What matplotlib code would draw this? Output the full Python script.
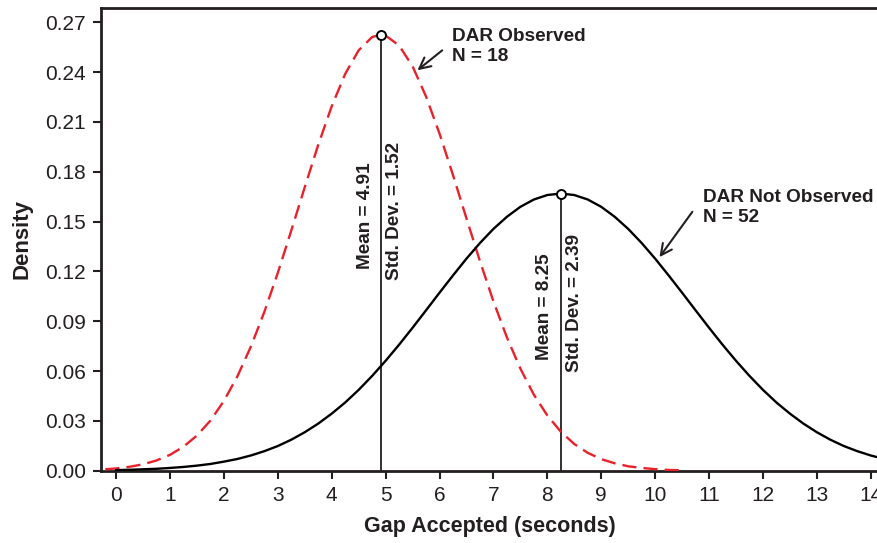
import numpy as np
import matplotlib.pyplot as plt

plt.rcParams['font.family'] = ['Liberation Sans', 'DejaVu Sans']

# ---- data ----
# DAR observed (red dashed), density vs gap accepted (s)
obs_x = [-0.2, 0.0, 0.25, 0.5, 0.75, 1.0, 1.25, 1.5, 1.75, 2.0, 2.25, 2.5, 2.75,
         3.0, 3.25, 3.5, 3.75, 4.0, 4.25, 4.5, 4.75, 4.91, 5.0, 5.25, 5.5, 5.75,
         6.0, 6.25, 6.5, 6.75, 7.0, 7.25, 7.5, 7.75, 8.0, 8.25, 8.5, 8.75, 9.0,
         9.25, 9.5, 9.75, 10.0, 10.25, 10.5]
obs_y = [0.0009, 0.0014, 0.0024, 0.0039, 0.0062, 0.0096, 0.0145, 0.0212, 0.0302,
         0.0420, 0.0568, 0.0747, 0.0956, 0.1191, 0.1446, 0.1707, 0.1962, 0.2194,
         0.2389, 0.2531, 0.2611, 0.2625, 0.2620, 0.2560, 0.2435, 0.2253, 0.2030,
         0.1780, 0.1519, 0.1262, 0.1020, 0.0803, 0.0615, 0.0458, 0.0333, 0.0235,
         0.0161, 0.0108, 0.0070, 0.0045, 0.0027, 0.0017, 0.0010, 0.0005, 0.0003]

# DAR not observed (black solid)
nob_x = [0.0, 0.25, 0.5, 0.75, 1.0, 1.25, 1.5, 1.75, 2.0, 2.25, 2.5, 2.75, 3.0,
         3.25, 3.5, 3.75, 4.0, 4.25, 4.5, 4.75, 5.0, 5.25, 5.5, 5.75, 6.0, 6.25,
         6.5, 6.75, 7.0, 7.25, 7.5, 7.75, 8.0, 8.25, 8.5, 8.75, 9.0, 9.25, 9.5,
         9.75, 10.0, 10.25, 10.5, 10.75, 11.0, 11.25, 11.5, 11.75, 12.0, 12.25,
         12.5, 12.75, 13.0, 13.25, 13.5, 13.75, 14.0, 14.25]
nob_y = [0.0004, 0.0006, 0.0009, 0.0012, 0.0017, 0.0023, 0.0031, 0.0041, 0.0055,
         0.0071, 0.0092, 0.0118, 0.0149, 0.0187, 0.0232, 0.0284, 0.0344, 0.0411,
         0.0487, 0.0571, 0.0662, 0.0759, 0.0861, 0.0966, 0.1072, 0.1176, 0.1277,
         0.1371, 0.1456, 0.1529, 0.1589, 0.1633, 0.1660, 0.1669, 0.1660, 0.1633,
         0.1589, 0.1529, 0.1456, 0.1371, 0.1277, 0.1176, 0.1072, 0.0966, 0.0861,
         0.0759, 0.0662, 0.0571, 0.0487, 0.0411, 0.0344, 0.0284, 0.0232, 0.0187,
         0.0149, 0.0118, 0.0092, 0.0071]

obs_mean, obs_sd, obs_n = 4.91, 1.52, 18
nob_mean, nob_sd, nob_n = 8.25, 2.39, 52
obs_peak = 0.2625
nob_peak = 0.1669

x_ticks = list(range(0, 15))
y_ticks = [0.00, 0.03, 0.06, 0.09, 0.12, 0.15, 0.18, 0.21, 0.24, 0.27]

INK = '#231f20'

# ---- figure ----
fig = plt.figure(figsize=(8.78, 5.43), dpi=100)
ax = fig.add_axes([0.115, 0.133, 0.886, 0.852])

ax.plot(obs_x, obs_y, color='#e8212b', lw=1.7, ls=(0, (6, 3)), zorder=3)
ax.plot(nob_x, nob_y, color='black', lw=1.7, zorder=3)

# mean lines with open circle on top
for m, pk in [(obs_mean, obs_peak), (nob_mean, nob_peak)]:
    ax.plot([m, m], [0, pk], color=INK, lw=1.3, zorder=2)
    ax.plot([m], [pk], marker='o', ms=6.5, mfc='white', mec='black', mew=1.4, zorder=5)

txt = dict(rotation=90, ha='center', va='center', fontsize=13.7, fontweight='bold',
           color=INK, textcoords='offset points')
ax.annotate(f"Mean = {obs_mean:.2f}", xy=(obs_mean, 0.1538), xytext=(-11, 0), **txt)
ax.annotate(f"Std. Dev. = {obs_sd:.2f}", xy=(obs_mean, 0.1562), xytext=(10, 0), **txt)
ax.annotate(f"Mean = {nob_mean:.2f}", xy=(nob_mean, 0.0990), xytext=(-12, 0), **txt)
ax.annotate(f"Std. Dev. = {nob_sd:.2f}", xy=(nob_mean, 0.1008), xytext=(10, 0), **txt)

# group labels with arrows
arr = dict(arrowstyle='->', color=INK, lw=1.5, mutation_scale=20,
           shrinkA=0, shrinkB=0)
ax.annotate("", xy=(5.59, 0.2411), xytext=(6.05, 0.2531), arrowprops=arr)
ax.text(6.24, 0.2665, f"DAR Observed\nN = {obs_n}", ha='left', va='top',
        fontsize=13.7, fontweight='bold', color=INK, linespacing=1.2)
ax.annotate("", xy=(10.08, 0.1286), xytext=(10.69, 0.1559), arrowprops=arr)
ax.text(10.88, 0.1695, f"DAR Not Observed\nN = {nob_n}", ha='left', va='top',
        fontsize=13.7, fontweight='bold', color=INK, linespacing=1.2)

ax.set_xlim(-0.28, 14.15)
ax.set_ylim(0, 0.2785)
ax.set_xticks(x_ticks)
ax.set_yticks(y_ticks)
ax.set_yticklabels([f"{v:.2f}" for v in y_ticks])
ax.tick_params(direction='out', length=6, width=1.5, labelsize=15, color=INK,
               labelcolor=INK, pad=5)
for s in ax.spines.values():
    s.set_linewidth(2)
    s.set_color(INK)
ax.spines['right'].set_visible(False)

ax.set_xlabel("Gap Accepted (seconds)", fontsize=15.5, fontweight='bold',
              color=INK, labelpad=8)
ax.set_ylabel("Density", fontsize=16, fontweight='bold', color=INK, labelpad=9)

fig.savefig("out.png", dpi=100)
